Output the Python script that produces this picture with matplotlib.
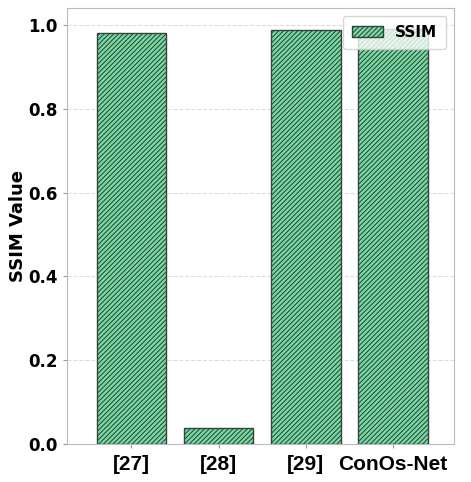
import matplotlib.pyplot as plt
import numpy as np

methods = ['[27]', '[28]', '[29]', 'ConOs-Net']
ssim = [0.981, 0.038, 0.988, 0.99]
yticks = [0.0, 0.2, 0.4, 0.6, 0.8, 1.0]

plt.rcParams['hatch.linewidth'] = 0.75
fig, ax = plt.subplots(figsize=(4.71, 4.82), dpi=100)
x = np.arange(len(methods))
ax.bar(x, ssim, width=0.8, color='#74dba2', edgecolor='#33443b', hatch='///////',
       linewidth=1.0, label='SSIM', zorder=3)

ax.set_xticks(x)
ax.set_xticklabels(methods, fontsize=15, fontweight='bold', family='Liberation Sans')
ax.set_ylim(0, 1.04)
ax.set_xlim(-0.74, 3.7)
ax.set_yticks(yticks)
ax.set_yticklabels(['%.1f' % v for v in yticks], fontsize=12, fontweight='bold')
ax.set_ylabel('SSIM Value', fontsize=13, fontweight='bold', labelpad=1)
ax.grid(axis='y', linestyle='--', color='#dddddd', linewidth=0.8, zorder=0)
for s in ax.spines.values():
    s.set_color('#bbbbbb')
ax.tick_params(colors='#999999', labelcolor='black', length=3)
ax.tick_params(axis='x', pad=5)

leg = ax.legend(loc='upper right', prop={'weight': 'bold', 'size': 11}, framealpha=0.8,
                handlelength=2.0, borderpad=0.6)

plt.subplots_adjust(left=0.142, right=0.964, top=0.983, bottom=0.079)
plt.savefig('out.png')
